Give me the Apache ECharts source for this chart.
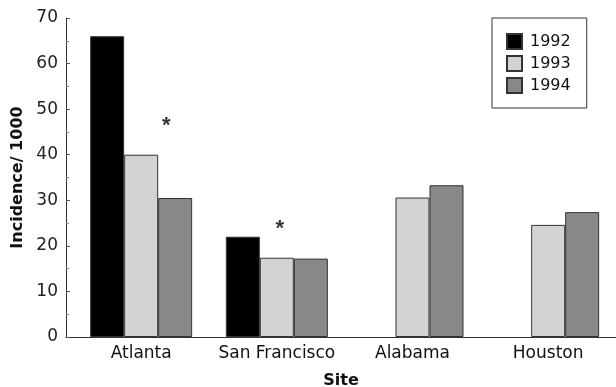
<!DOCTYPE html>
<html>
<head>
<meta charset="utf-8">
<script src="https://cdn.jsdelivr.net/npm/echarts@6/dist/echarts.min.js"></script>
<style>html,body{margin:0;padding:0;background:#fff;}#c{width:616px;height:387px;}</style>
</head>
<body>
<div id="c"></div>
<script>
const categories = ['Atlanta', 'San Francisco', 'Alabama', 'Houston'];
const seriesNames = ['1992', '1993', '1994'];
const values1992 = [66, 22, null, null];
const values1993 = [40, 17.4, 30.6, 24.6];
const values1994 = [30.5, 17.2, 33.3, 27.4];
const yTicks = [0, 10, 20, 30, 40, 50, 60, 70];
// significance markers: [category position, value]
const asterisks = [[0.186, 47.3], [1.022, 24.7]];

const FONT = 'DejaVu Sans, Liberation Sans, Arial, sans-serif';
const colors = ['#000000', '#d3d3d3', '#888888'];

function toData(arr) {
  return arr.map((v, i) => v == null ? [i, '-'] : [i, v]);
}
const allValues = [values1992, values1993, values1994];

const chart = echarts.init(document.getElementById('c'), null, {renderer: 'canvas'});
chart.setOption({
  animation: false,
  backgroundColor: '#fff',
  textStyle: {fontFamily: FONT},
  grid: {left: 66, right: 0, top: 18, bottom: 50, containLabel: false, outerBoundsMode: 'none'},
  legend: {
    orient: 'vertical',
    left: 492, top: 18,
    data: seriesNames,
    borderColor: '#333', borderWidth: 1,
    padding: [15, 16, 14, 14],
    itemWidth: 15, itemHeight: 15, itemGap: 5,
    icon: 'rect',
    textStyle: {fontFamily: FONT, fontSize: 16, color: '#111', padding: [0, 0, 0, 3]}
  },
  xAxis: {
    type: 'value',
    min: -0.554, max: 3.5,
    name: 'Site',
    nameLocation: 'middle',
    nameGap: 36,
    nameTextStyle: {fontFamily: FONT, fontSize: 16, fontWeight: 'bold', color: '#111'},
    splitLine: {show: false},
    axisLine: {show: true, onZero: false, lineStyle: {color: '#333', width: 1}},
    axisTick: {show: false},
    axisLabel: {
      customValues: [0, 1, 2, 3],
      formatter: v => categories[Math.round(v)] || '',
      fontFamily: FONT, fontSize: 17, color: '#111', margin: 8
    }
  },
  yAxis: {
    type: 'value',
    min: 0, max: 70, interval: 10,
    name: 'Incidence/ 1000',
    nameLocation: 'middle',
    nameGap: 39,
    nameTextStyle: {fontFamily: FONT, fontSize: 16, fontWeight: 'bold', color: '#111'},
    splitLine: {show: false},
    axisLine: {show: true, onZero: false, lineStyle: {color: '#333', width: 1}},
    axisTick: {show: true, inside: true, length: 4, lineStyle: {color: '#555'}},
    minorTick: {show: true, splitNumber: 2, length: 3, lineStyle: {color: '#888'}},
    axisLabel: {
      customValues: yTicks,
      fontFamily: FONT, fontSize: 17, color: '#222', margin: 8
    }
  },
  series: seriesNames.map((name, k) => ({
    name: name,
    type: 'bar',
    data: toData(allValues[k]),
    barWidth: 34,
    barGap: '0%',
    itemStyle: {color: colors[k], borderColor: '#333', borderWidth: 1}
  })).concat([{
    type: 'scatter',
    data: asterisks,
    symbolSize: 0,
    silent: true,
    label: {
      show: true, position: 'inside', formatter: '*',
      fontFamily: 'Liberation Sans, Arial, sans-serif', fontSize: 22, fontWeight: 'bold', color: '#000', offset: [0, 4]
    }
  }])
});
</script>
</body>
</html>
